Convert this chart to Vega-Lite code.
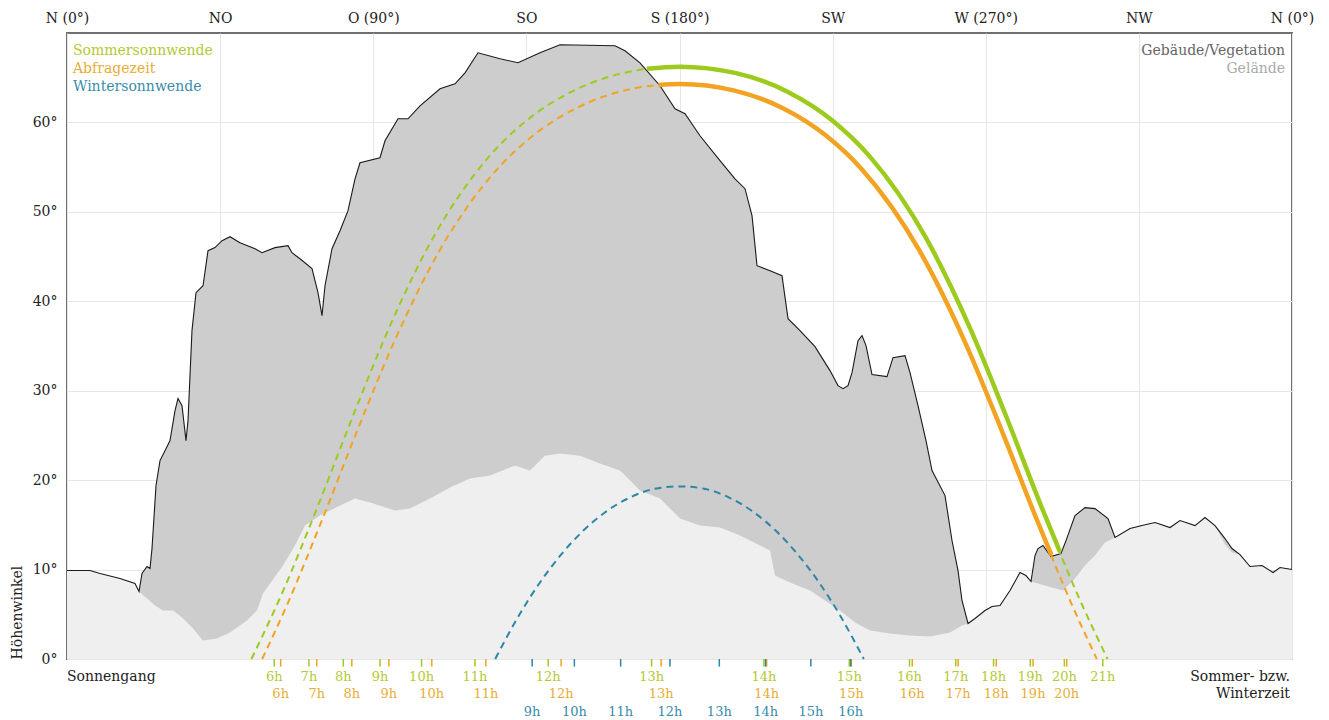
{
  "$schema": "https://vega.github.io/schema/vega-lite/v6.json",
  "width": 1225,
  "height": 626,
  "autosize": {"type": "none"},
  "padding": {"left": 67, "top": 33, "right": 37, "bottom": 61},
  "background": "white",
  "config": {
    "font": "DejaVu Serif",
    "view": {"stroke": "#707070", "strokeWidth": 2},
    "axis": {"labelFont": "DejaVu Serif", "titleFont": "DejaVu Serif"}
  },
  "datasets": {
    "one": [{"k": 1}],
    "sky": [
      {"az": 0, "alt": 9.89}, {"az": 6.76, "alt": 9.89}, {"az": 9.7, "alt": 9.56}, {"az": 15.58, "alt": 9.0}, {"az": 19.98, "alt": 8.44},
      {"az": 21.16, "alt": 7.54}, {"az": 22.04, "alt": 9.56}, {"az": 23.51, "alt": 10.34}, {"az": 24.39, "alt": 10.12}, {"az": 24.98, "alt": 12.35},
      {"az": 26.16, "alt": 19.4}, {"az": 27.33, "alt": 22.19}, {"az": 28.8, "alt": 23.3}, {"az": 30.27, "alt": 24.42}, {"az": 31.74, "alt": 27.77},
      {"az": 32.62, "alt": 29.12}, {"az": 33.8, "alt": 28.33}, {"az": 34.97, "alt": 24.42}, {"az": 35.56, "alt": 26.66}, {"az": 36.73, "alt": 36.72},
      {"az": 37.91, "alt": 40.96}, {"az": 39.97, "alt": 41.74}, {"az": 41.44, "alt": 45.66}, {"az": 43.49, "alt": 46.0}, {"az": 45.55, "alt": 46.78},
      {"az": 47.9, "alt": 47.22}, {"az": 50.84, "alt": 46.55}, {"az": 55.25, "alt": 45.88}, {"az": 57.31, "alt": 45.43}, {"az": 61.13, "alt": 46.0},
      {"az": 64.95, "alt": 46.22}, {"az": 66.12, "alt": 45.43}, {"az": 68.47, "alt": 44.76}, {"az": 72.0, "alt": 43.65}, {"az": 73.76, "alt": 40.96},
      {"az": 74.94, "alt": 38.39}, {"az": 75.82, "alt": 41.74}, {"az": 77.88, "alt": 45.88}, {"az": 80.23, "alt": 47.89}, {"az": 82.58, "alt": 50.13},
      {"az": 84.64, "alt": 53.7}, {"az": 86.1, "alt": 55.49}, {"az": 91.98, "alt": 56.05}, {"az": 93.45, "alt": 57.95}, {"az": 97.27, "alt": 60.41},
      {"az": 100.21, "alt": 60.41}, {"az": 103.74, "alt": 61.86}, {"az": 109.62, "alt": 63.77}, {"az": 114.02, "alt": 64.32}, {"az": 116.96, "alt": 65.55},
      {"az": 120.78, "alt": 67.79}, {"az": 127.25, "alt": 67.12}, {"az": 132.54, "alt": 66.67}, {"az": 139.01, "alt": 67.79}, {"az": 144.88, "alt": 68.69},
      {"az": 161.04, "alt": 68.58}, {"az": 163.98, "alt": 68.02}, {"az": 168.39, "alt": 66.67}, {"az": 174.27, "alt": 64.1}, {"az": 178.68, "alt": 61.53},
      {"az": 181.62, "alt": 60.97}, {"az": 186.02, "alt": 58.51}, {"az": 191.9, "alt": 55.72}, {"az": 196.31, "alt": 53.7}, {"az": 199.25, "alt": 52.59},
      {"az": 201.31, "alt": 49.57}, {"az": 202.78, "alt": 43.98}, {"az": 206.6, "alt": 43.42}, {"az": 210.12, "alt": 42.86}, {"az": 211.89, "alt": 38.06},
      {"az": 215.42, "alt": 36.72}, {"az": 219.82, "alt": 34.93}, {"az": 224.23, "alt": 32.25}, {"az": 226.58, "alt": 30.57}, {"az": 228.05, "alt": 30.23},
      {"az": 229.52, "alt": 30.57}, {"az": 230.7, "alt": 32.02}, {"az": 232.46, "alt": 35.6}, {"az": 233.64, "alt": 36.16}, {"az": 234.81, "alt": 35.04},
      {"az": 236.57, "alt": 31.8}, {"az": 240.98, "alt": 31.58}, {"az": 242.74, "alt": 33.7}, {"az": 246.27, "alt": 33.92}, {"az": 247.74, "alt": 32.02},
      {"az": 250.09, "alt": 28.33}, {"az": 252.44, "alt": 24.42}, {"az": 254.21, "alt": 21.07}, {"az": 258.03, "alt": 18.27}, {"az": 260.08, "alt": 13.25},
      {"az": 261.85, "alt": 9.89}, {"az": 263.02, "alt": 6.54}, {"az": 264.79, "alt": 3.97}, {"az": 266.84, "alt": 4.53}, {"az": 269.78, "alt": 5.42},
      {"az": 271.84, "alt": 5.87}, {"az": 274.19, "alt": 5.98}, {"az": 277.13, "alt": 7.66}, {"az": 280.06, "alt": 9.67}, {"az": 281.82, "alt": 9.33},
      {"az": 283.3, "alt": 8.66}, {"az": 284.47, "alt": 11.57}, {"az": 285.35, "alt": 12.35}, {"az": 286.82, "alt": 12.69}, {"az": 289.17, "alt": 11.46},
      {"az": 292.11, "alt": 11.79}, {"az": 293.58, "alt": 13.24}, {"az": 296.23, "alt": 16.04}, {"az": 299.17, "alt": 16.93}, {"az": 302.11, "alt": 16.82},
      {"az": 305.93, "alt": 15.7}, {"az": 307.99, "alt": 13.58}, {"az": 312.4, "alt": 14.59}, {"az": 315.92, "alt": 14.92}, {"az": 319.74, "alt": 15.26},
      {"az": 324.15, "alt": 14.7}, {"az": 327.09, "alt": 15.48}, {"az": 331.5, "alt": 14.92}, {"az": 334.43, "alt": 15.82}, {"az": 337.37, "alt": 14.92},
      {"az": 340.31, "alt": 13.47}, {"az": 342.37, "alt": 12.35}, {"az": 344.72, "alt": 11.68}, {"az": 347.66, "alt": 10.34}, {"az": 351.19, "alt": 10.45},
      {"az": 354.42, "alt": 9.67}, {"az": 356.48, "alt": 10.23}, {"az": 360, "alt": 10.0}
    ],
    "terrain": [
      {"az": 0, "alt": 9.89}, {"az": 6.76, "alt": 9.89}, {"az": 9.7, "alt": 9.56}, {"az": 15.58, "alt": 9.0}, {"az": 19.98, "alt": 8.44},
      {"az": 21.16, "alt": 7.54}, {"az": 25.86, "alt": 5.98}, {"az": 28.21, "alt": 5.42}, {"az": 31.15, "alt": 5.42}, {"az": 33.8, "alt": 4.64},
      {"az": 37.03, "alt": 3.41}, {"az": 39.97, "alt": 2.07}, {"az": 44.08, "alt": 2.29}, {"az": 47.9, "alt": 2.96}, {"az": 52.9, "alt": 4.3},
      {"az": 55.84, "alt": 5.42}, {"az": 57.6, "alt": 7.32}, {"az": 59.66, "alt": 8.44}, {"az": 63.48, "alt": 10.45}, {"az": 67.0, "alt": 12.69},
      {"az": 69.94, "alt": 14.92}, {"az": 74.35, "alt": 16.04}, {"az": 80.23, "alt": 17.16}, {"az": 84.64, "alt": 17.94}, {"az": 89.04, "alt": 17.49},
      {"az": 96.39, "alt": 16.6}, {"az": 100.8, "alt": 16.82}, {"az": 106.68, "alt": 17.94}, {"az": 112.56, "alt": 19.17}, {"az": 118.43, "alt": 20.17},
      {"az": 124.31, "alt": 20.51}, {"az": 131.66, "alt": 21.63}, {"az": 136.07, "alt": 21.07}, {"az": 140.47, "alt": 22.74}, {"az": 144.88, "alt": 22.97},
      {"az": 150.76, "alt": 22.74}, {"az": 156.64, "alt": 21.85}, {"az": 162.51, "alt": 21.07}, {"az": 168.39, "alt": 18.83}, {"az": 174.27, "alt": 17.94},
      {"az": 180.15, "alt": 15.7}, {"az": 186.02, "alt": 14.92}, {"az": 191.9, "alt": 14.7}, {"az": 197.78, "alt": 13.8}, {"az": 203.66, "alt": 12.69},
      {"az": 206.6, "alt": 12.13}, {"az": 208.07, "alt": 9.33}, {"az": 212.48, "alt": 8.55}, {"az": 218.36, "alt": 7.66}, {"az": 222.77, "alt": 6.54},
      {"az": 227.17, "alt": 5.42}, {"az": 231.58, "alt": 4.08}, {"az": 235.99, "alt": 3.19}, {"az": 241.86, "alt": 2.85}, {"az": 247.74, "alt": 2.63},
      {"az": 253.62, "alt": 2.52}, {"az": 259.5, "alt": 2.96}, {"az": 263.02, "alt": 3.74}, {"az": 264.79, "alt": 3.97}, {"az": 266.84, "alt": 4.53},
      {"az": 269.78, "alt": 5.42}, {"az": 271.84, "alt": 5.87}, {"az": 274.19, "alt": 5.98}, {"az": 277.13, "alt": 7.66}, {"az": 280.06, "alt": 9.67},
      {"az": 281.82, "alt": 9.33}, {"az": 283.3, "alt": 8.66}, {"az": 287.41, "alt": 8.21}, {"az": 292.7, "alt": 7.66}, {"az": 296.23, "alt": 9.0},
      {"az": 299.17, "alt": 10.45}, {"az": 302.11, "alt": 11.57}, {"az": 305.05, "alt": 13.02}, {"az": 307.99, "alt": 13.58}, {"az": 312.4, "alt": 14.59},
      {"az": 315.92, "alt": 14.92}, {"az": 319.74, "alt": 15.26}, {"az": 324.15, "alt": 14.7}, {"az": 327.09, "alt": 15.48}, {"az": 331.5, "alt": 14.92},
      {"az": 334.43, "alt": 15.82}, {"az": 337.37, "alt": 14.92}, {"az": 340.31, "alt": 12.8}, {"az": 342.37, "alt": 11.9}, {"az": 344.72, "alt": 11.68},
      {"az": 347.66, "alt": 10.34}, {"az": 351.19, "alt": 10.45}, {"az": 354.42, "alt": 9.67}, {"az": 356.48, "alt": 10.23}, {"az": 360, "alt": 10.0}
    ],
    "paths": [
      {"s": "Sommersonnwende", "az": 54.2, "alt": 0}, {"s": "Sommersonnwende", "az": 63.37, "alt": 7.5}, {"s": "Sommersonnwende", "az": 73.58, "alt": 16.97},
      {"s": "Sommersonnwende", "az": 83.81, "alt": 26.95}, {"s": "Sommersonnwende", "az": 94.78, "alt": 37.13}, {"s": "Sommersonnwende", "az": 107.6, "alt": 47.11},
      {"s": "Sommersonnwende", "az": 124.3, "alt": 56.29}, {"s": "Sommersonnwende", "az": 135.09, "alt": 60.22}, {"s": "Sommersonnwende", "az": 147.99, "alt": 63.38},
      {"s": "Sommersonnwende", "az": 163.37, "alt": 65.51}, {"s": "Sommersonnwende", "az": 180, "alt": 66.24}, {"s": "Sommersonnwende", "az": 196.63, "alt": 65.51},
      {"s": "Sommersonnwende", "az": 212.01, "alt": 63.38}, {"s": "Sommersonnwende", "az": 224.91, "alt": 60.22}, {"s": "Sommersonnwende", "az": 235.7, "alt": 56.29},
      {"s": "Sommersonnwende", "az": 252.4, "alt": 47.11}, {"s": "Sommersonnwende", "az": 265.22, "alt": 37.13}, {"s": "Sommersonnwende", "az": 276.19, "alt": 26.95},
      {"s": "Sommersonnwende", "az": 286.42, "alt": 16.97}, {"s": "Sommersonnwende", "az": 296.63, "alt": 7.5}, {"s": "Sommersonnwende", "az": 305.8, "alt": 0},
      {"s": "Abfragezeit", "az": 57.36, "alt": 0}, {"s": "Abfragezeit", "az": 64.65, "alt": 6.04}, {"s": "Abfragezeit", "az": 75.01, "alt": 15.6},
      {"s": "Abfragezeit", "az": 85.39, "alt": 25.63}, {"s": "Abfragezeit", "az": 96.53, "alt": 35.8}, {"s": "Abfragezeit", "az": 109.56, "alt": 45.72},
      {"s": "Abfragezeit", "az": 126.31, "alt": 54.72}, {"s": "Abfragezeit", "az": 136.97, "alt": 58.53}, {"s": "Abfragezeit", "az": 149.6, "alt": 61.58},
      {"s": "Abfragezeit", "az": 164.09, "alt": 63.59}, {"s": "Abfragezeit", "az": 180, "alt": 64.3}, {"s": "Abfragezeit", "az": 195.91, "alt": 63.59},
      {"s": "Abfragezeit", "az": 210.4, "alt": 61.58}, {"s": "Abfragezeit", "az": 223.03, "alt": 58.53}, {"s": "Abfragezeit", "az": 233.69, "alt": 54.72},
      {"s": "Abfragezeit", "az": 250.44, "alt": 45.72}, {"s": "Abfragezeit", "az": 263.47, "alt": 35.8}, {"s": "Abfragezeit", "az": 274.61, "alt": 25.63},
      {"s": "Abfragezeit", "az": 284.99, "alt": 15.6}, {"s": "Abfragezeit", "az": 295.35, "alt": 6.04}, {"s": "Abfragezeit", "az": 302.64, "alt": 0},
      {"s": "Wintersonnwende", "az": 125.84, "alt": 0}, {"s": "Wintersonnwende", "az": 133.06, "alt": 5.03}, {"s": "Wintersonnwende", "az": 138.99, "alt": 8.56},
      {"s": "Wintersonnwende", "az": 145.24, "alt": 11.69}, {"s": "Wintersonnwende", "az": 151.75, "alt": 14.36}, {"s": "Wintersonnwende", "az": 158.53, "alt": 16.51},
      {"s": "Wintersonnwende", "az": 165.52, "alt": 18.07}, {"s": "Wintersonnwende", "az": 172.74, "alt": 19.04}, {"s": "Wintersonnwende", "az": 180, "alt": 19.3},
      {"s": "Wintersonnwende", "az": 187.26, "alt": 19.04}, {"s": "Wintersonnwende", "az": 194.48, "alt": 18.07}, {"s": "Wintersonnwende", "az": 201.47, "alt": 16.51},
      {"s": "Wintersonnwende", "az": 208.25, "alt": 14.36}, {"s": "Wintersonnwende", "az": 214.76, "alt": 11.69}, {"s": "Wintersonnwende", "az": 221.01, "alt": 8.56},
      {"s": "Wintersonnwende", "az": 226.94, "alt": 5.03}, {"s": "Wintersonnwende", "az": 234.16, "alt": 0}
    ],
    "visible": [
      {"s": "Sommersonnwende", "az": 170.4, "alt": 66.0}, {"s": "Sommersonnwende", "az": 180, "alt": 66.24}, {"s": "Sommersonnwende", "az": 196.63, "alt": 65.51},
      {"s": "Sommersonnwende", "az": 212.01, "alt": 63.38}, {"s": "Sommersonnwende", "az": 224.91, "alt": 60.22}, {"s": "Sommersonnwende", "az": 235.7, "alt": 56.29},
      {"s": "Sommersonnwende", "az": 252.4, "alt": 47.11}, {"s": "Sommersonnwende", "az": 265.22, "alt": 37.13}, {"s": "Sommersonnwende", "az": 276.19, "alt": 26.95},
      {"s": "Sommersonnwende", "az": 286.42, "alt": 16.97}, {"s": "Sommersonnwende", "az": 291.8, "alt": 11.98},
      {"s": "Abfragezeit", "az": 173.8, "alt": 64.19}, {"s": "Abfragezeit", "az": 180, "alt": 64.3}, {"s": "Abfragezeit", "az": 195.91, "alt": 63.59},
      {"s": "Abfragezeit", "az": 210.4, "alt": 61.58}, {"s": "Abfragezeit", "az": 223.03, "alt": 58.53}, {"s": "Abfragezeit", "az": 233.69, "alt": 54.72},
      {"s": "Abfragezeit", "az": 250.44, "alt": 45.72}, {"s": "Abfragezeit", "az": 263.47, "alt": 35.8}, {"s": "Abfragezeit", "az": 274.61, "alt": 25.63},
      {"s": "Abfragezeit", "az": 284.99, "alt": 15.6}, {"s": "Abfragezeit", "az": 289.3, "alt": 11.62}
    ],
    "times": [
      {"s": "Sommersonnwende", "t": "6h", "az": 60.9}, {"s": "Sommersonnwende", "t": "7h", "az": 71.1}, {"s": "Sommersonnwende", "t": "8h", "az": 81.2},
      {"s": "Sommersonnwende", "t": "9h", "az": 92.0}, {"s": "Sommersonnwende", "t": "10h", "az": 104.2}, {"s": "Sommersonnwende", "t": "11h", "az": 119.9},
      {"s": "Sommersonnwende", "t": "12h", "az": 141.4}, {"s": "Sommersonnwende", "t": "13h", "az": 171.8}, {"s": "Sommersonnwende", "t": "14h", "az": 204.8},
      {"s": "Sommersonnwende", "t": "15h", "az": 229.9}, {"s": "Sommersonnwende", "t": "16h", "az": 247.6}, {"s": "Sommersonnwende", "t": "17h", "az": 261.2},
      {"s": "Sommersonnwende", "t": "18h", "az": 272.3}, {"s": "Sommersonnwende", "t": "19h", "az": 283.1}, {"s": "Sommersonnwende", "t": "20h", "az": 293.1},
      {"s": "Sommersonnwende", "t": "21h", "az": 304.4},
      {"s": "Abfragezeit", "t": "6h", "az": 62.8}, {"s": "Abfragezeit", "t": "7h", "az": 73.4}, {"s": "Abfragezeit", "t": "8h", "az": 83.7},
      {"s": "Abfragezeit", "t": "9h", "az": 94.6}, {"s": "Abfragezeit", "t": "10h", "az": 107.2}, {"s": "Abfragezeit", "t": "11h", "az": 123.1},
      {"s": "Abfragezeit", "t": "12h", "az": 145.2}, {"s": "Abfragezeit", "t": "13h", "az": 174.6}, {"s": "Abfragezeit", "t": "14h", "az": 205.6},
      {"s": "Abfragezeit", "t": "15h", "az": 230.5}, {"s": "Abfragezeit", "t": "16h", "az": 248.4}, {"s": "Abfragezeit", "t": "17h", "az": 261.9},
      {"s": "Abfragezeit", "t": "18h", "az": 273.1}, {"s": "Abfragezeit", "t": "19h", "az": 283.9}, {"s": "Abfragezeit", "t": "20h", "az": 293.8},
      {"s": "Wintersonnwende", "t": "9h", "az": 136.7}, {"s": "Wintersonnwende", "t": "10h", "az": 149.1}, {"s": "Wintersonnwende", "t": "11h", "az": 162.7},
      {"s": "Wintersonnwende", "t": "12h", "az": 177.2}, {"s": "Wintersonnwende", "t": "13h", "az": 191.7}, {"s": "Wintersonnwende", "t": "14h", "az": 205.3},
      {"s": "Wintersonnwende", "t": "15h", "az": 218.6}, {"s": "Wintersonnwende", "t": "16h", "az": 230.3}
    ]
  },
  "layer": [
    {
      "data": {"name": "sky"},
      "mark": {"type": "area", "color": "#cdcdcd"},
      "encoding": {
        "x": {"field": "az", "type": "quantitative", "scale": {"domain": [0, 360], "nice": false},
          "axis": {"orient": "top", "values": [0, 45, 90, 135, 180, 225, 270, 315, 360],
            "labelExpr": "datum.value==0||datum.value==360?'N (0°)':datum.value==45?'NO':datum.value==90?'O (90°)':datum.value==135?'SO':datum.value==180?'S (180°)':datum.value==225?'SW':datum.value==270?'W (270°)':'NW'",
            "title": null, "ticks": false, "domain": false, "grid": true, "gridColor": "#e6e6e6",
            "labelFontSize": 14, "labelColor": "#222", "labelPadding": 8, "labelFlush": false, "labelOverlap": false}},
        "y": {"field": "alt", "type": "quantitative", "scale": {"domain": [0, 70], "nice": false},
          "axis": {"values": [0, 10, 20, 30, 40, 50, 60], "labelExpr": "datum.value+'°'",
            "title": "Höhenwinkel", "titleAnchor": "start", "titleFontWeight": "normal", "titleFontSize": 14, "titleColor": "#222", "titlePadding": 8,
            "ticks": false, "domain": false, "grid": true, "gridColor": "#e6e6e6",
            "labelFontSize": 14, "labelColor": "#222", "labelPadding": 10, "labelFlush": false}}
      }
    },
    {
      "data": {"name": "terrain"},
      "mark": {"type": "area", "color": "#efefef"},
      "encoding": {
        "x": {"field": "az", "type": "quantitative"},
        "y": {"field": "alt", "type": "quantitative"}
      }
    },
    {
      "data": {"name": "sky"},
      "mark": {"type": "line", "color": "#1a1a1a", "strokeWidth": 1.1},
      "encoding": {
        "x": {"field": "az", "type": "quantitative"},
        "y": {"field": "alt", "type": "quantitative"}
      }
    },
    {
      "data": {"name": "paths"},
      "mark": {"type": "line", "strokeWidth": 2, "strokeDash": [7, 5], "interpolate": "monotone"},
      "encoding": {
        "x": {"field": "az", "type": "quantitative"},
        "y": {"field": "alt", "type": "quantitative"},
        "color": {"field": "s", "type": "nominal", "legend": null,
          "scale": {"domain": ["Sommersonnwende", "Abfragezeit", "Wintersonnwende"], "range": ["#9ccb1e", "#f2a322", "#2d86a6"]}}
      }
    },
    {
      "data": {"name": "visible"},
      "mark": {"type": "line", "strokeWidth": 4.5, "interpolate": "monotone"},
      "encoding": {
        "x": {"field": "az", "type": "quantitative"},
        "y": {"field": "alt", "type": "quantitative"},
        "color": {"field": "s", "type": "nominal", "legend": null}
      }
    },
    {
      "data": {"name": "times"},
      "mark": {"type": "rule", "strokeWidth": 1.5},
      "encoding": {
        "x": {"field": "az", "type": "quantitative"},
        "y": {"datum": 0},
        "y2": {"datum": -0.85},
        "color": {"field": "s", "type": "nominal", "legend": null}
      }
    },
    {
      "data": {"name": "times"},
      "transform": [{"filter": "datum.s=='Sommersonnwende'"}],
      "mark": {"type": "text", "fontSize": 13, "color": "#b5c934", "baseline": "middle", "dy": 18},
      "encoding": {
        "x": {"field": "az", "type": "quantitative"},
        "y": {"datum": 0},
        "text": {"field": "t"}
      }
    },
    {
      "data": {"name": "times"},
      "transform": [{"filter": "datum.s=='Abfragezeit'"}],
      "mark": {"type": "text", "fontSize": 13, "color": "#e8ad36", "baseline": "middle", "dy": 35},
      "encoding": {
        "x": {"field": "az", "type": "quantitative"},
        "y": {"datum": 0},
        "text": {"field": "t"}
      }
    },
    {
      "data": {"name": "times"},
      "transform": [{"filter": "datum.s=='Wintersonnwende'"}],
      "mark": {"type": "text", "fontSize": 13, "color": "#3a8cab", "baseline": "middle", "dy": 53},
      "encoding": {
        "x": {"field": "az", "type": "quantitative"},
        "y": {"datum": 0},
        "text": {"field": "t"}
      }
    },
    {
      "data": {"name": "one"},
      "mark": {"type": "text", "fontSize": 14, "color": "#222", "align": "left", "baseline": "middle", "dy": 18},
      "encoding": {"x": {"datum": 0}, "y": {"datum": 0}, "text": {"value": "Sonnengang"}}
    },
    {
      "data": {"name": "one"},
      "mark": {"type": "text", "fontSize": 14, "color": "#222", "align": "right", "baseline": "middle", "dy": 18, "dx": -2, "lineHeight": 17},
      "encoding": {"x": {"datum": 360}, "y": {"datum": 0}, "text": {"value": ["Sommer- bzw.", "Winterzeit"]}}
    },
    {
      "data": {"name": "one"},
      "mark": {"type": "text", "fontSize": 14, "color": "#b5c934", "align": "left", "baseline": "middle", "dx": 6, "dy": 18},
      "encoding": {"x": {"datum": 0}, "y": {"datum": 70}, "text": {"value": "Sommersonnwende"}}
    },
    {
      "data": {"name": "one"},
      "mark": {"type": "text", "fontSize": 14, "color": "#e8ad36", "align": "left", "baseline": "middle", "dx": 6, "dy": 36},
      "encoding": {"x": {"datum": 0}, "y": {"datum": 70}, "text": {"value": "Abfragezeit"}}
    },
    {
      "data": {"name": "one"},
      "mark": {"type": "text", "fontSize": 14, "color": "#3a8cab", "align": "left", "baseline": "middle", "dx": 6, "dy": 54},
      "encoding": {"x": {"datum": 0}, "y": {"datum": 70}, "text": {"value": "Wintersonnwende"}}
    },
    {
      "data": {"name": "one"},
      "mark": {"type": "text", "fontSize": 14, "color": "#666666", "align": "right", "baseline": "middle", "dx": -7, "dy": 18},
      "encoding": {"x": {"datum": 360}, "y": {"datum": 70}, "text": {"value": "Gebäude/Vegetation"}}
    },
    {
      "data": {"name": "one"},
      "mark": {"type": "text", "fontSize": 14, "color": "#aaaaaa", "align": "right", "baseline": "middle", "dx": -7, "dy": 36},
      "encoding": {"x": {"datum": 360}, "y": {"datum": 70}, "text": {"value": "Gelände"}}
    }
  ]
}
